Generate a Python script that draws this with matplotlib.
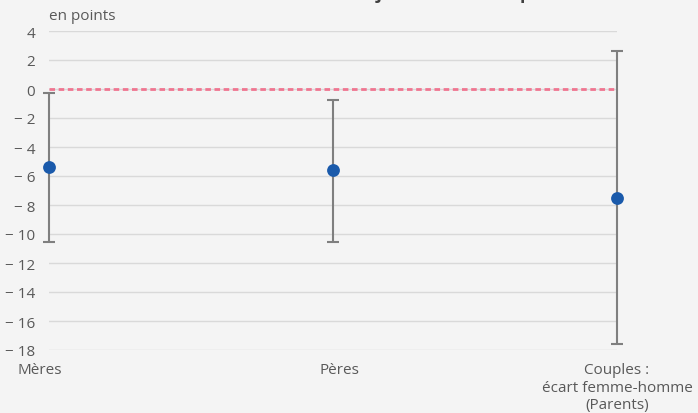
import matplotlib.pyplot as plt
import matplotlib.transforms as mtransforms

# données
categories = ["Mères", "Pères", "Couples :\nécart femme-homme\n(Parents)"]
estimates = [-5.4, -5.6, -7.55]
ci_low = [-10.55, -10.55, -17.6]
ci_high = [-0.3, -0.75, 2.6]
y_ticks = [4, 2, 0, -2, -4, -6, -8, -10, -12, -14, -16, -18]

BG = "#f4f4f4"
GRID = "#d9d9d9"
TEXT = "#595959"

plt.rcParams['font.family'] = ['Open Sans', 'DejaVu Sans']

fig = plt.figure(figsize=(6.98, 4.14), dpi=100, facecolor=BG)
ax = fig.add_axes([49 / 698, 63 / 414, 568 / 698, 319 / 414], facecolor=BG)

x = list(range(len(categories)))
err_lo = [e - l for e, l in zip(estimates, ci_low)]
err_hi = [h - e for e, h in zip(estimates, ci_high)]

ax.axhline(0, color="#f07590", lw=2, ls=(0, (2, 1.3)), zorder=2)
ax.errorbar(x, estimates, yerr=[err_lo, err_hi], fmt="none",
            ecolor="#7f7f7f", elinewidth=1.5, capsize=4.5, capthick=1.5,
            zorder=3, clip_on=False)
ax.scatter(x, estimates, s=85, color="#1a5aab", zorder=4, clip_on=False,
           linewidths=0)

ax.set_xlim(0, 2)
ax.set_ylim(-18, 4)
ax.set_yticks(y_ticks)
ax.set_yticklabels([f"\u2212 {abs(v)}" if v < 0 else str(v)
                    for v in y_ticks])
ax.set_xticks(x)
ax.set_xticklabels(categories)
ax.grid(axis="y", color=GRID, lw=1)
ax.set_axisbelow(True)
for s in ax.spines.values():
    s.set_visible(False)
ax.tick_params(length=0, labelsize=11, colors=TEXT)
ax.tick_params(axis="y", pad=10)
ax.tick_params(axis="x", pad=9)

# petits décalages des libellés de catégories
for lab, dx in zip(ax.get_xticklabels(), [-0.09, 0.06, 0.0]):
    lab.set_transform(lab.get_transform() + mtransforms.ScaledTranslation(
        dx, 0, fig.dpi_scale_trans))

fig.text(49 / 698, 1 - 16 / 414, "en points", color=TEXT, fontsize=11,
         va="center", ha="left")
# titre coupé en haut de l'image, seul le bas des lettres est visible
fig.text(4 / 698, 1 + 1 / 414,
         "Effets sur les écarts de revenu selon la trajectoire des temps",
         color="#404040", fontsize=13, fontweight="bold", va="baseline",
         ha="left")

fig.savefig("out.png", dpi=100, facecolor=BG)
